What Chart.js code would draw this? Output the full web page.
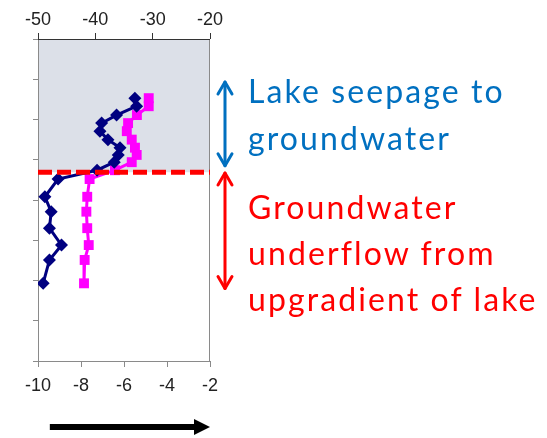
<!DOCTYPE html>
<html>
<head>
<meta charset="utf-8">
<script src="https://cdn.jsdelivr.net/npm/chart.js@4"></script>
<style>
  body { margin: 0; background: #fff; }
  #wrap { position: relative; width: 547px; height: 438px; }
  #isoChart { display: block; }
  .note { position: absolute; left: 248px; font-family: Lato, "Open Sans", sans-serif; font-size: 32px; letter-spacing: 2.1px; line-height: 47px; white-space: nowrap; }
</style>
</head>
<body>
<div id="wrap">
  <canvas id="isoChart" width="547" height="438"></canvas>
  <div class="note" style="top:67px; color:#0070c0">Lake seepage to<br>groundwater</div>
  <div class="note" style="top:184px; line-height:46px; color:#ff0000">Groundwater<br>underflow from<br>upgradient of lake</div>
</div>
<script>
// sample depths (increase downward)
const depths   = [1.47, 1.67, 1.89, 2.09, 2.29, 2.50, 2.70, 2.88, 3.06, 3.26, 3.48, 3.92, 4.29, 4.70, 5.12, 5.49, 6.07];
// deltaD, read on the top axis
const deltaD   = [-33.1, -32.8, -36.3, -38.9, -39.2, -37.8, -35.7, -36.0, -36.7, -39.7, -46.5, -48.8, -47.7, -48.0, -45.9, -48.0, -49.1];
// delta18O, read on the bottom axis
const delta18O = [-4.85, -4.85, -5.40, -5.81, -5.87, -5.64, -5.49, -5.41, -5.64, -6.42, -7.60, -7.71, -7.75, -7.71, -7.64, -7.83, -7.86];

const topTicks    = [-50, -20, 10];   // min, max, step
const bottomTicks = [-10, -2, 2];
const depthTicks  = [0, 8, 1];

const seepageBase    = 3.31;          // bottom of the lake seepage zone
const seepageRange   = [1.07, 3.15];
const underflowRange = [3.33, 6.2];

function arrowHead(ctx, x, y, dir) {
  ctx.beginPath();
  ctx.moveTo(x - 7, y + dir * 12);
  ctx.lineTo(x, y);
  ctx.lineTo(x + 7, y + dir * 12);
  ctx.stroke();
}

function doubleArrow(ctx, x, y1, y2, color) {
  ctx.save();
  ctx.strokeStyle = color;
  ctx.lineWidth = 3;
  ctx.lineCap = 'round';
  ctx.lineJoin = 'round';
  ctx.beginPath();
  ctx.moveTo(x, y1);
  ctx.lineTo(x, y2);
  ctx.stroke();
  arrowHead(ctx, x, y1, 1);
  arrowHead(ctx, x, y2, -1);
  ctx.restore();
}

const zones = {
  id: 'zones',
  beforeDatasetsDraw(chart) {
    const { ctx, chartArea: a, scales } = chart;
    const yb = scales.y.getPixelForValue(seepageBase);
    ctx.save();
    ctx.fillStyle = '#dce0e8';
    ctx.fillRect(a.left, a.top, a.right - a.left, yb - a.top);
    ctx.strokeStyle = '#8a8a8a';
    ctx.lineWidth = 1;
    ctx.strokeRect(a.left + 0.5, a.top + 0.5, a.right - a.left - 1, a.bottom - a.top);
    ctx.strokeStyle = '#333';
    ctx.beginPath();
    ctx.moveTo(a.left, a.top + 0.5);
    ctx.lineTo(a.right, a.top + 0.5);
    ctx.stroke();
    ctx.restore();
  },
  afterDatasetsDraw(chart) {
    const { ctx, chartArea: a, scales } = chart;
    const yb = scales.y.getPixelForValue(seepageBase);
    ctx.save();
    ctx.strokeStyle = '#ff0000';
    ctx.lineWidth = 5;
    ctx.setLineDash([14, 5]);
    ctx.beginPath();
    ctx.moveTo(a.left, yb);
    ctx.lineTo(a.right, yb);
    ctx.stroke();
    ctx.restore();

    const ax = a.right + 15;
    doubleArrow(ctx, ax, scales.y.getPixelForValue(seepageRange[0]), scales.y.getPixelForValue(seepageRange[1]), '#0070c0');
    doubleArrow(ctx, ax, scales.y.getPixelForValue(underflowRange[0]), scales.y.getPixelForValue(underflowRange[1]), '#ff0000');

    // direction arrow under the bottom axis
    const x0 = scales.xBottom.getPixelForValue(-9.45);
    const x1 = scales.xBottom.getPixelForValue(-2);
    const yy = 427;
    ctx.save();
    ctx.strokeStyle = '#000';
    ctx.fillStyle = '#000';
    ctx.lineWidth = 6;
    ctx.beginPath();
    ctx.moveTo(x0, yy);
    ctx.lineTo(x1 - 14, yy);
    ctx.stroke();
    ctx.beginPath();
    ctx.moveTo(x1, yy);
    ctx.lineTo(x1 - 16, yy - 8);
    ctx.lineTo(x1 - 16, yy + 8);
    ctx.closePath();
    ctx.fill();
    ctx.restore();
  }
};

const tickFont = { family: 'Arial, "Liberation Sans", sans-serif', size: 18 };

new Chart(document.getElementById('isoChart'), {
  type: 'scatter',
  data: {
    datasets: [
      {
        label: 'δD',
        data: depths.map((d, i) => ({ x: deltaD[i], y: d })),
        xAxisID: 'xTop',
        yAxisID: 'y',
        showLine: true,
        borderColor: '#000080',
        backgroundColor: '#000080',
        borderWidth: 3,
        pointStyle: 'rectRot',
        pointRadius: 6.5,
        pointBorderWidth: 0
      },
      {
        label: 'δ18O',
        data: depths.map((d, i) => ({ x: delta18O[i], y: d })),
        xAxisID: 'xBottom',
        yAxisID: 'y',
        showLine: true,
        borderColor: '#ff00ff',
        backgroundColor: '#ff00ff',
        borderWidth: 3,
        pointStyle: 'rect',
        pointRadius: 7,
        pointBorderWidth: 0
      }
    ]
  },
  options: {
    responsive: false,
    animation: false,
    layout: { padding: { left: 0, top: 0, right: 337, bottom: 0 } },
    plugins: { legend: { display: false }, tooltip: { enabled: false } },
    scales: {
      xTop: {
        type: 'linear', position: 'top',
        min: topTicks[0], max: topTicks[1],
        ticks: { stepSize: topTicks[2], color: '#222', font: tickFont, padding: 2 },
        grid: { drawOnChartArea: false, tickLength: 6, color: '#333' },
        border: { display: false },
        afterFit(s) { s.height = 39; }
      },
      xBottom: {
        type: 'linear', position: 'bottom',
        min: bottomTicks[0], max: bottomTicks[1],
        ticks: { stepSize: bottomTicks[2], color: '#222', font: tickFont, padding: 8 },
        grid: { drawOnChartArea: false, tickLength: 6, color: '#8a8a8a' },
        border: { display: false },
        afterFit(s) { s.height = 77; }
      },
      y: {
        type: 'linear', reverse: true,
        min: depthTicks[0], max: depthTicks[1],
        ticks: { stepSize: depthTicks[2], callback: () => '' },
        grid: { drawOnChartArea: false, tickLength: 5, color: '#8a8a8a' },
        border: { display: false },
        afterFit(s) { s.width = 38; }
      }
    }
  },
  plugins: [zones]
});
</script>
</body>
</html>
